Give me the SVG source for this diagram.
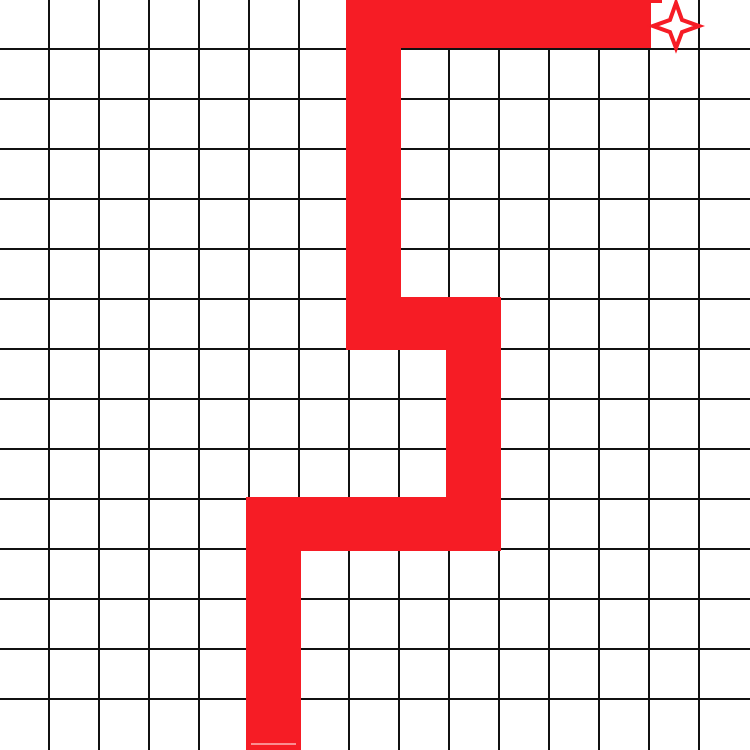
<svg xmlns="http://www.w3.org/2000/svg" width="750" height="750" viewBox="0 0 750 750">
<style>
.grid line{stroke:#111;stroke-width:2}
.band{fill:#f61c25}
.star{fill:#fff;stroke:#f61c25;stroke-width:4;stroke-linejoin:miter}
</style>
<rect width="750" height="750" fill="#fff"/>
<g class="grid" id="grid">
<line x1="49" y1="0" x2="49" y2="750"/><line x1="99" y1="0" x2="99" y2="750"/><line x1="149" y1="0" x2="149" y2="750"/><line x1="199" y1="0" x2="199" y2="750"/><line x1="249" y1="0" x2="249" y2="750"/><line x1="299" y1="0" x2="299" y2="750"/><line x1="349" y1="0" x2="349" y2="750"/><line x1="399" y1="0" x2="399" y2="750"/><line x1="449" y1="0" x2="449" y2="750"/><line x1="499" y1="0" x2="499" y2="750"/><line x1="549" y1="0" x2="549" y2="750"/><line x1="599" y1="0" x2="599" y2="750"/><line x1="649" y1="0" x2="649" y2="750"/><line x1="699" y1="0" x2="699" y2="750"/>
<line x1="0" y1="49" x2="750" y2="49"/><line x1="0" y1="99" x2="750" y2="99"/><line x1="0" y1="149" x2="750" y2="149"/><line x1="0" y1="199" x2="750" y2="199"/><line x1="0" y1="249" x2="750" y2="249"/><line x1="0" y1="299" x2="750" y2="299"/><line x1="0" y1="349" x2="750" y2="349"/><line x1="0" y1="399" x2="750" y2="399"/><line x1="0" y1="449" x2="750" y2="449"/><line x1="0" y1="499" x2="750" y2="499"/><line x1="0" y1="549" x2="750" y2="549"/><line x1="0" y1="599" x2="750" y2="599"/><line x1="0" y1="649" x2="750" y2="649"/><line x1="0" y1="699" x2="750" y2="699"/>
</g>
<g id="path">
<polygon class="band" points="246,750 246,497 446,497 446,350 346,350 346,0 651,0 651,48 401,48 401,297 501,297 501,551 301,551 301,750"/>
<line x1="251" y1="744" x2="296" y2="744" stroke="#fff" stroke-width="1"/>
<line x1="651" y1="1.5" x2="662" y2="1.5" stroke="#f61c25" stroke-width="3"/>
</g>
<g id="goal">
<path class="star" d="M676,3 L682,20 L699,26 L682,32 L676,48 L670,32 L653,26 L670,20 Z"/>
</g>
</svg>
